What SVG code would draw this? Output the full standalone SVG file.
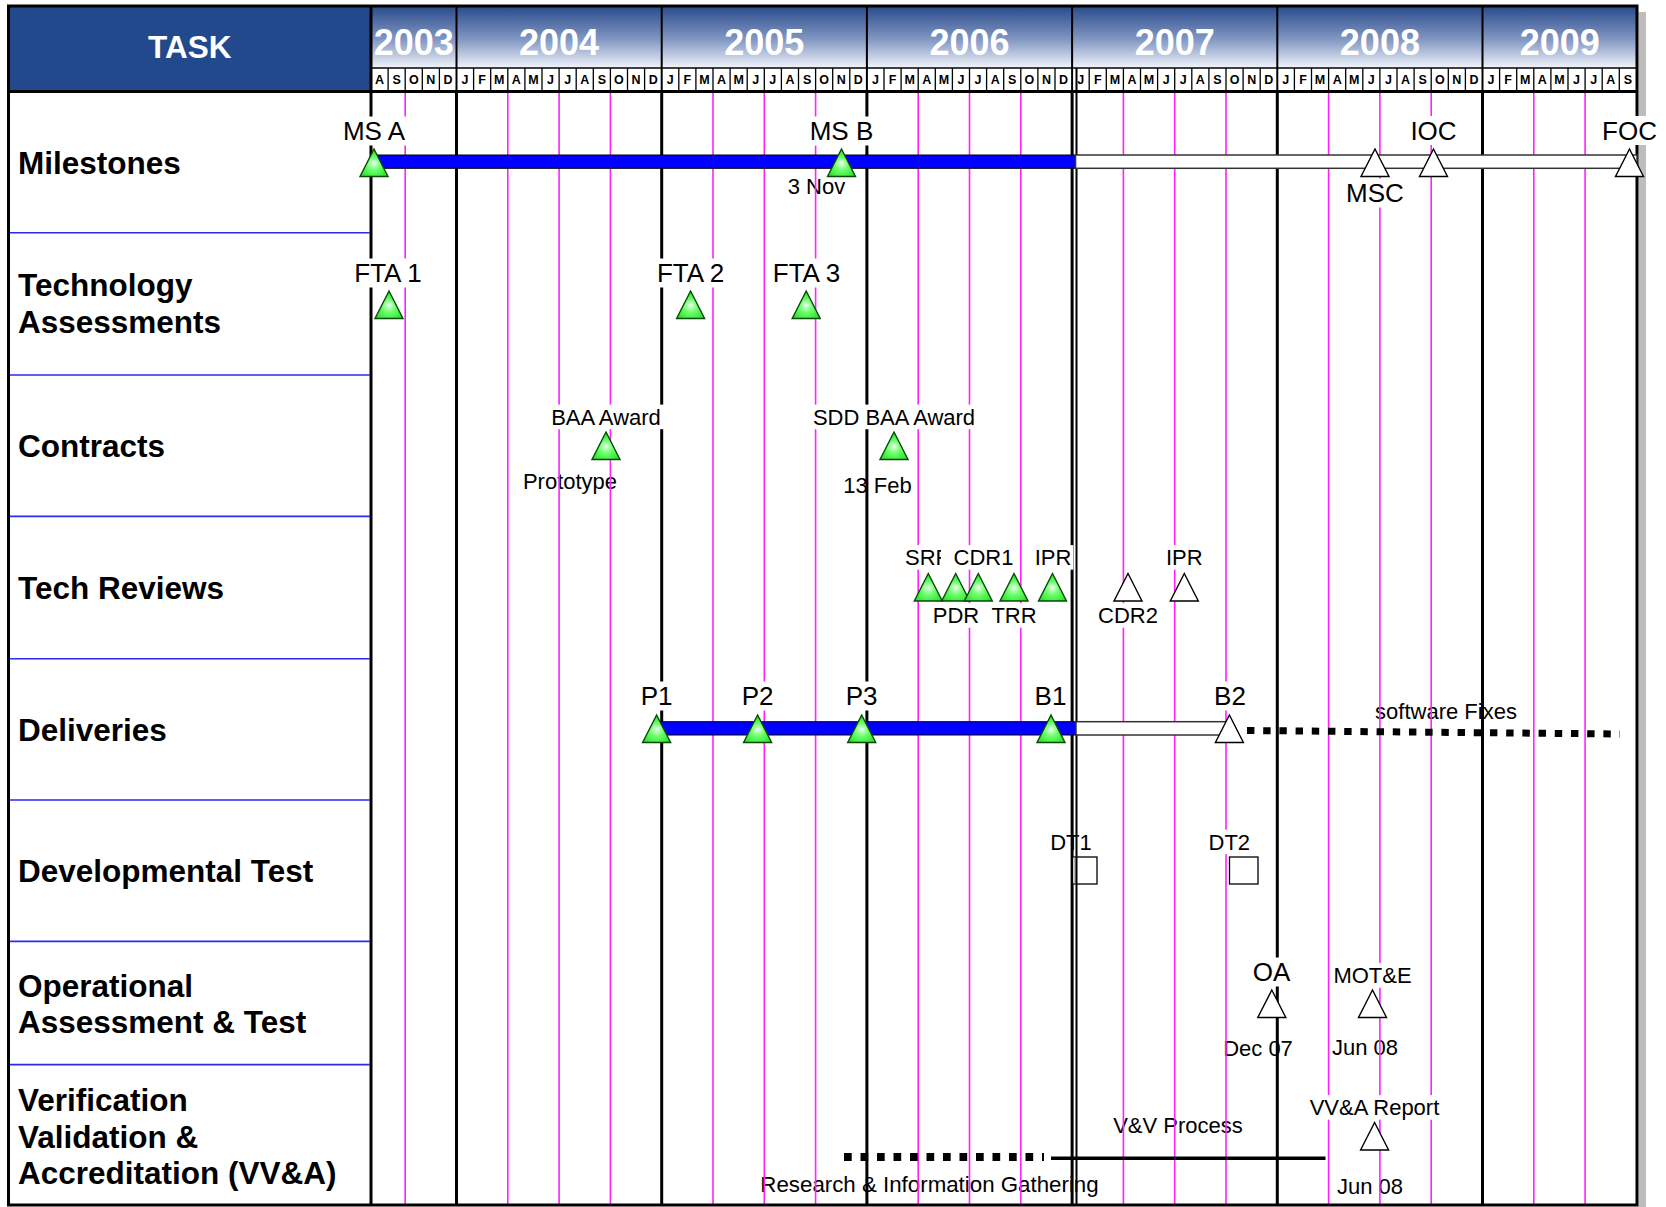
<svg xmlns="http://www.w3.org/2000/svg" width="1666" height="1207" viewBox="0 0 1666 1207">
<defs>
<linearGradient id="yrg" x1="0" y1="0" x2="0" y2="1">
<stop offset="0" stop-color="#294a8b"/>
<stop offset="0.55" stop-color="#8499c4"/>
<stop offset="1" stop-color="#f1f4fa"/>
</linearGradient>
<radialGradient id="gg" cx="0.5" cy="0.62" r="0.62" fx="0.5" fy="0.5">
<stop offset="0" stop-color="#f0fff0"/>
<stop offset="0.38" stop-color="#6cff6c"/>
<stop offset="1" stop-color="#1cd81c"/>
</radialGradient>
<path id="tri" d="M0,0 L14,27.5 L-14,27.5 Z"/>
</defs>
<style>
text{font-family:"Liberation Sans",Arial,Helvetica,sans-serif;fill:#000}
.t26{font-size:26px;text-anchor:middle}
.t22{font-size:22px;text-anchor:middle}
.wb{fill:#fff}
.task{font-size:31.5px;font-weight:bold;fill:#fff;text-anchor:middle}
.mon{font-size:12.5px;font-weight:bold;text-anchor:middle}
.yr{font-size:36px;font-weight:bold;fill:#fff;text-anchor:middle}
.lbl{font-size:31.5px;font-weight:bold}
.tg{fill:url(#gg);stroke:#064a06;stroke-width:1.4}
.tw{fill:#fff;stroke:#000;stroke-width:1.4}
.mag{stroke:#ff22ff;stroke-width:1.6;fill:none}
.yl{stroke:#000;stroke-width:3;fill:none}
.box{fill:#fff;stroke:#000;stroke-width:1.3}
.dot{stroke:#000;fill:none}
</style>
<rect x="0" y="0" width="1666" height="1207" fill="#fff"/>

<g id="header">
<rect x="8.5" y="6" width="362.5" height="86" fill="#22498c"/>
<rect x="371" y="6" width="1266" height="62" fill="url(#yrg)"/>
<rect x="371" y="68" width="1266" height="23" fill="#fff"/>
</g>

<g id="annotations">
<text id="ann-3nov" class="t22" x="816.5" y="194">3 Nov</text>
<text id="ann-prototype" class="t22" x="570" y="489">Prototype</text>
<text id="ann-13feb" class="t22" x="877.5" y="493">13 Feb</text>
<text id="ann-swfix" class="t22" x="1446" y="719">software Fixes</text>
<text id="ann-dt1" class="t22" x="1071" y="849.5">DT1</text>
<text id="ann-dec07" class="t22" x="1258" y="1056">Dec 07</text>
<text id="ann-jun08a" class="t22" x="1365" y="1055">Jun 08</text>
<text id="ann-vvp" class="t22" x="1178" y="1132.5">V&amp;V Process</text>
<text id="ann-research" class="t22" x="929.5" y="1191.5" style="font-size:22.3px">Research &amp; Information Gathering</text>
<text id="ann-jun08b" class="t22" x="1370" y="1194">Jun 08</text>
</g>

<g id="grid">
<path class="mag" d="M405.2 92.5V1204M507.8 92.5V1204M559.1 92.5V1204M610.4 92.5V1204M713 92.5V1204M764.3 92.5V1204M815.6 92.5V1204M918.2 92.5V1204M969.5 92.5V1204M1020.8 92.5V1204M1123.4 92.5V1204M1174.7 92.5V1204M1226 92.5V1204M1328.6 92.5V1204M1379.9 92.5V1204M1431.2 92.5V1204M1533.8 92.5V1204M1585.1 92.5V1204"/>
<path class="yl" d="M456.5 92V1204M661.7 92V1204M866.9 92V1204M1072.1 92V1204M1277.3 92V1204M1482.5 92V1204M371 6V1205"/>
<path d="M1076.5 68V1204" stroke="#000" stroke-width="2"/>
</g>

<g id="header-lines">
<path d="M456.5 6V92M661.7 6V92M866.9 6V92M1072.1 6V92M1277.3 6V92M1482.5 6V92" stroke="#000" stroke-width="2"/>
<path d="M371 68H1637" stroke="#000" stroke-width="1.5"/>
<path stroke="#000" stroke-width="1.3" d="M388.1 68V91M405.2 68V91M422.3 68V91M439.4 68V91M473.6 68V91M490.7 68V91M507.8 68V91M524.9 68V91M542 68V91M559.1 68V91M576.2 68V91M593.3 68V91M610.4 68V91M627.5 68V91M644.6 68V91M678.8 68V91M695.9 68V91M713 68V91M730.1 68V91M747.2 68V91M764.3 68V91M781.4 68V91M798.5 68V91M815.6 68V91M832.7 68V91M849.8 68V91M884 68V91M901.1 68V91M918.2 68V91M935.3 68V91M952.4 68V91M969.5 68V91M986.6 68V91M1003.7 68V91M1020.8 68V91M1037.9 68V91M1055 68V91M1089.2 68V91M1106.3 68V91M1123.4 68V91M1140.5 68V91M1157.6 68V91M1174.7 68V91M1191.8 68V91M1208.9 68V91M1226 68V91M1243.1 68V91M1260.2 68V91M1294.4 68V91M1311.5 68V91M1328.6 68V91M1345.7 68V91M1362.8 68V91M1379.9 68V91M1397 68V91M1414.1 68V91M1431.2 68V91M1448.3 68V91M1465.4 68V91M1499.6 68V91M1516.7 68V91M1533.8 68V91M1550.9 68V91M1568 68V91M1585.1 68V91M1602.2 68V91M1619.3 68V91"/>
<path d="M8.5 91.5H1637" stroke="#000" stroke-width="3"/>
<text id="task-title" class="task" x="189.7" y="58">TASK</text>
<g id="years">
<text class="yr" x="413.75" y="55">2003</text>
<text class="yr" x="559.1" y="55">2004</text>
<text class="yr" x="764.3" y="55">2005</text>
<text class="yr" x="969.5" y="55">2006</text>
<text class="yr" x="1174.7" y="55">2007</text>
<text class="yr" x="1379.9" y="55">2008</text>
<text class="yr" x="1559.75" y="55">2009</text>
</g>
<text id="months" class="mon" y="84" x="379.55 396.65 413.75 430.85 447.95 465.05 482.15 499.25 516.35 533.45 550.55 567.65 584.75 601.85 618.95 636.05 653.15 670.25 687.35 704.45 721.55 738.65 755.75 772.85 789.95 807.05 824.15 841.25 858.35 875.45 892.55 909.65 926.75 943.85 960.95 978.05 995.15 1012.25 1029.35 1046.45 1063.55 1080.65 1097.75 1114.85 1131.95 1149.05 1166.15 1183.25 1200.35 1217.45 1234.55 1251.65 1268.75 1285.85 1302.95 1320.05 1337.15 1354.25 1371.35 1388.45 1405.55 1422.65 1439.75 1456.85 1473.95 1491.05 1508.15 1525.25 1542.35 1559.45 1576.55 1593.65 1610.75 1627.85">ASONDJFMAMJJASONDJFMAMJJASONDJFMAMJJASONDJFMAMJJASONDJFMAMJJASONDJFMAMJJAS</text>
</g>

<g id="task-column">
<path d="M9 232.7H370M9 375H370M9 516.4H370M9 658.8H370M9 800H370M9 941.4H370M9 1064.6H370" stroke="#2b2bee" stroke-width="1.6"/>
<text id="lbl-milestones" class="lbl" x="18" y="174">Milestones</text>
<text id="lbl-tech" class="lbl" x="18" y="296">Technology<tspan x="18" y="333">Assessments</tspan></text>
<text id="lbl-contracts" class="lbl" x="18" y="457">Contracts</text>
<text id="lbl-reviews" class="lbl" x="18" y="599">Tech Reviews</text>
<text id="lbl-deliveries" class="lbl" x="18" y="740.5">Deliveries</text>
<text id="lbl-devtest" class="lbl" x="18" y="882">Developmental Test</text>
<text id="lbl-opt" class="lbl" x="18" y="996.5">Operational<tspan x="18" y="1032.7">Assessment &amp; Test</tspan></text>
<text id="lbl-vva" class="lbl" x="18" y="1111">Verification<tspan x="18" y="1147.5">Validation &amp;</tspan><tspan x="18" y="1184">Accreditation (VV&amp;A)</tspan></text>
</g>

<g id="frame">
<rect x="1638.5" y="12" width="7.5" height="1195" fill="#bdbdbd"/>
<rect x="8.5" y="6" width="1628.5" height="1199" fill="none" stroke="#000" stroke-width="3"/>
</g>

<g id="connectors">
<rect id="bar-ms-done" x="376" y="155" width="699.5" height="13.3" fill="#0000ff" stroke="#000" stroke-width="1"/>
<rect id="bar-ms-plan" x="1075.5" y="155" width="561.5" height="13.3" fill="#fff" stroke="#333" stroke-width="1.5"/>
<rect id="bar-del-done" x="657" y="721.7" width="419" height="13.3" fill="#0000ff" stroke="#000" stroke-width="1"/>
<rect id="bar-del-plan" x="1076" y="721.7" width="153.4" height="13.3" fill="#fff" stroke="#333" stroke-width="1.5"/>
<path id="line-swfix" class="dot" d="M1247 730.5L1620 734" stroke-width="7" stroke-dasharray="7.4 8.8"/>
<path id="line-research" class="dot" d="M844 1157H1044" stroke-width="8" stroke-dasharray="7.7 8.8"/>
<path id="line-vv" d="M1051 1158.3H1325.5" stroke="#000" stroke-width="3.5"/>
</g>

<g id="nodes">
<g id="ms-a"><rect class="wb" x="340.2" y="116.5" width="67.6" height="29"/><text class="t26" x="374" y="140">MS A</text><use href="#tri" x="374" y="149" class="tg"/></g>
<g id="ms-b"><rect class="wb" x="807.7" y="116.5" width="67.6" height="29"/><text class="t26" x="841.5" y="140">MS B</text><use href="#tri" x="841.5" y="149" class="tg"/></g>
<g id="msc"><rect class="wb" x="1344.1" y="178.5" width="61.8" height="29"/><text class="t26" x="1375" y="202">MSC</text><use href="#tri" x="1375" y="149" class="tw"/></g>
<g id="ioc"><rect class="wb" x="1408.4" y="116" width="50.2" height="29"/><text class="t26" x="1433.5" y="139.5">IOC</text><use href="#tri" x="1433.5" y="149" class="tw"/></g>
<g id="foc"><rect class="wb" x="1600" y="116" width="59" height="29"/><text class="t26" x="1629.5" y="139.5">FOC</text><use href="#tri" x="1629.5" y="149" class="tw"/></g>

<g id="fta1"><rect class="wb" x="350.6" y="258.5" width="74.8" height="29"/><text class="t26" x="388" y="282">FTA 1</text><use href="#tri" x="389" y="291" class="tg"/></g>
<g id="fta2"><rect class="wb" x="653.2" y="258.5" width="74.8" height="29"/><text class="t26" x="690.6" y="282">FTA 2</text><use href="#tri" x="690.6" y="291" class="tg"/></g>
<g id="fta3"><rect class="wb" x="769.1" y="258.5" width="74.8" height="29"/><text class="t26" x="806.5" y="282">FTA 3</text><use href="#tri" x="806.2" y="291" class="tg"/></g>

<g id="baa"><rect class="wb" x="547.75" y="404.6" width="116.5" height="24.6"/><text class="t22" x="606" y="424.5">BAA Award</text><use href="#tri" x="606" y="432" class="tg"/></g>
<g id="sdd-baa"><rect class="wb" x="809.5" y="404.6" width="169" height="24.6"/><text class="t22" x="894" y="424.5">SDD BAA Award</text><use href="#tri" x="894" y="432" class="tg"/></g>

<g id="srr"><rect class="wb" x="903" y="545.1" width="50.4" height="24.6"/><text class="t22" x="905" y="565" style="text-anchor:start">SRR</text><use href="#tri" x="928.3" y="573.5" class="tg"/></g>
<g id="pdr"><rect class="wb" x="930.8" y="603.1" width="50.4" height="24.6"/><text class="t22" x="956" y="623">PDR</text><use href="#tri" x="955.7" y="573.5" class="tg"/></g>
<g id="cdr1"><rect class="wb" x="941" y="545.1" width="74" height="24.6"/><text class="t22" x="983.5" y="565">CDR1</text><use href="#tri" x="978.3" y="573.5" class="tg"/></g>
<g id="trr"><rect class="wb" x="989.4" y="603.1" width="49.2" height="24.6"/><text class="t22" x="1014" y="623">TRR</text><use href="#tri" x="1014" y="573.5" class="tg"/></g>
<g id="ipr1"><rect class="wb" x="1032.65" y="545.1" width="40.7" height="24.6"/><text class="t22" x="1053" y="565">IPR</text><use href="#tri" x="1052.5" y="573.5" class="tg"/></g>
<g id="cdr2"><rect class="wb" x="1096" y="603.1" width="63.9" height="24.6"/><text class="t22" x="1128" y="623">CDR2</text><use href="#tri" x="1128" y="573.5" class="tw"/></g>
<g id="ipr2"><rect class="wb" x="1163.95" y="545.1" width="40.7" height="24.6"/><text class="t22" x="1184.3" y="565">IPR</text><use href="#tri" x="1184.3" y="573.5" class="tw"/></g>

<g id="p1"><rect class="wb" x="638.7" y="681.5" width="35.8" height="29"/><text class="t26" x="656.6" y="705">P1</text><use href="#tri" x="656.6" y="715" class="tg"/></g>
<g id="p2"><rect class="wb" x="739.7" y="681.5" width="35.8" height="29"/><text class="t26" x="757.6" y="705">P2</text><use href="#tri" x="757.6" y="715" class="tg"/></g>
<g id="p3"><rect class="wb" x="843.8" y="681.5" width="35.8" height="29"/><text class="t26" x="861.7" y="705">P3</text><use href="#tri" x="861.7" y="715" class="tg"/></g>
<g id="b1"><rect class="wb" x="1032.6" y="681.5" width="35.8" height="29"/><text class="t26" x="1050.5" y="705">B1</text><use href="#tri" x="1051" y="715" class="tg"/></g>
<g id="b2"><rect class="wb" x="1212.1" y="681.5" width="35.8" height="29"/><text class="t26" x="1230" y="705">B2</text><use href="#tri" x="1229.4" y="715" class="tw"/></g>

<g id="dt1"><rect class="box" x="1072.5" y="857" width="24.5" height="27"/><rect x="1073.5" y="857.7" width="2.5" height="25.6" fill="#bbb"/><path d="M1076.5 857V884" stroke="#000" stroke-width="2"/></g>
<g id="dt2"><rect class="wb" x="1206.5" y="829.6" width="45.6" height="24.6"/><text class="t22" x="1229.3" y="849.5">DT2</text><rect class="box" x="1229.5" y="857" width="28.5" height="27"/></g>

<g id="oa"><rect class="wb" x="1250.7" y="957.5" width="41.6" height="29"/><text class="t26" x="1271.5" y="981">OA</text><use href="#tri" x="1271.8" y="990" class="tw"/></g>
<g id="mote"><rect class="wb" x="1331.4" y="963.1" width="82.2" height="24.6"/><text class="t22" x="1372.5" y="983">MOT&amp;E</text><use href="#tri" x="1372.5" y="990" class="tw"/></g>

<g id="vva-report"><rect class="wb" x="1307.1" y="1095.1" width="134.8" height="24.6"/><text class="t22" x="1374.5" y="1115">VV&amp;A Report</text><use href="#tri" x="1374.6" y="1122.5" class="tw"/></g>
</g>
</svg>
